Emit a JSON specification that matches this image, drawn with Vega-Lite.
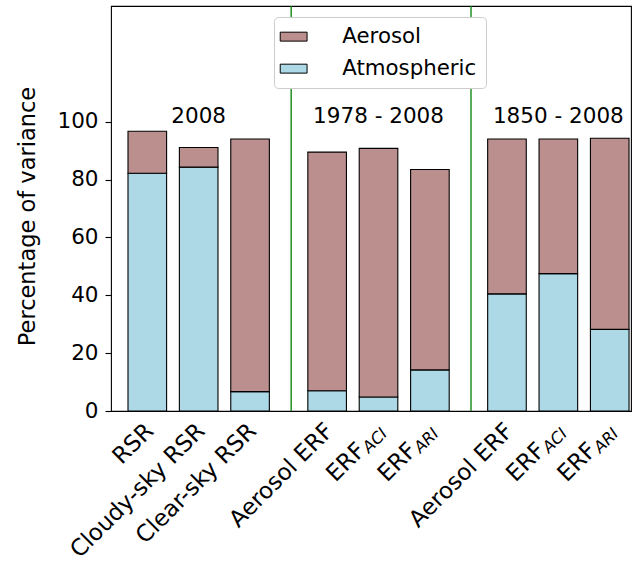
{
  "$schema": "https://vega.github.io/schema/vega-lite/v6.json",
  "autosize": {"type": "none"},
  "padding": {"left": 111, "top": 6, "right": 8, "bottom": 155},
  "width": 520,
  "height": 405,
  "config": {
    "font": "DejaVu Sans",
    "view": {"stroke": "black", "strokeWidth": 1.1},
    "legend": {
      "orient": "none",
      "legendX": 163,
      "legendY": 11,
      "fillColor": "white",
      "strokeColor": "#cccccc",
      "cornerRadius": 4,
      "padding": 9,
      "labelFontSize": 21.3,
      "labelColor": "black",
      "labelFont": "DejaVu Sans",
      "symbolType": "M-1.5,-0.5H1.5V0.5H-1.5Z",
      "symbolSize": 320,
      "symbolStrokeColor": "black",
      "symbolStrokeWidth": 1,
      "symbolOpacity": 1,
      "rowPadding": 10,
      "labelOffset": 38
    }
  },
  "datasets": {
    "bars": [
      {"label": "RSR", "pos": 0, "component": "Atmospheric", "value": 82.2},
      {"label": "RSR", "pos": 0, "component": "Aerosol", "value": 14.5},
      {"label": "Cloudy-sky RSR", "pos": 1, "component": "Atmospheric", "value": 84.3},
      {"label": "Cloudy-sky RSR", "pos": 1, "component": "Aerosol", "value": 6.8},
      {"label": "Clear-sky RSR", "pos": 2, "component": "Atmospheric", "value": 6.7},
      {"label": "Clear-sky RSR", "pos": 2, "component": "Aerosol", "value": 87.3},
      {"label": "Aerosol ERF (1978-2008)", "pos": 3.5, "component": "Atmospheric", "value": 7.0},
      {"label": "Aerosol ERF (1978-2008)", "pos": 3.5, "component": "Aerosol", "value": 82.5},
      {"label": "ERF ACI (1978-2008)", "pos": 4.5, "component": "Atmospheric", "value": 4.85},
      {"label": "ERF ACI (1978-2008)", "pos": 4.5, "component": "Aerosol", "value": 85.95},
      {"label": "ERF ARI (1978-2008)", "pos": 5.5, "component": "Atmospheric", "value": 14.2},
      {"label": "ERF ARI (1978-2008)", "pos": 5.5, "component": "Aerosol", "value": 69.3},
      {"label": "Aerosol ERF (1850-2008)", "pos": 7, "component": "Atmospheric", "value": 40.5},
      {"label": "Aerosol ERF (1850-2008)", "pos": 7, "component": "Aerosol", "value": 53.5},
      {"label": "ERF ACI (1850-2008)", "pos": 8, "component": "Atmospheric", "value": 47.5},
      {"label": "ERF ACI (1850-2008)", "pos": 8, "component": "Aerosol", "value": 46.5},
      {"label": "ERF ARI (1850-2008)", "pos": 9, "component": "Atmospheric", "value": 28.2},
      {"label": "ERF ARI (1850-2008)", "pos": 9, "component": "Aerosol", "value": 66.1}
    ],
    "labels": [
      {"pos": 0, "main": "RSR", "sub": ""},
      {"pos": 1, "main": "Cloudy-sky RSR", "sub": ""},
      {"pos": 2, "main": "Clear-sky RSR", "sub": ""},
      {"pos": 3.5, "main": "Aerosol ERF", "sub": ""},
      {"pos": 4.5, "main": "ERF", "sub": "ACI"},
      {"pos": 5.5, "main": "ERF", "sub": "ARI"},
      {"pos": 7, "main": "Aerosol ERF", "sub": ""},
      {"pos": 8, "main": "ERF", "sub": "ACI"},
      {"pos": 9, "main": "ERF", "sub": "ARI"}
    ],
    "groups": [
      {"pos": 1, "period": "2008"},
      {"pos": 4.5, "period": "1978 - 2008"},
      {"pos": 8, "period": "1850 - 2008"}
    ],
    "separators": [
      {"sep": 2.8},
      {"sep": 6.3}
    ]
  },
  "layer": [
    {
      "data": {"name": "separators"},
      "mark": {"type": "rule", "color": "green", "strokeWidth": 1.3},
      "encoding": {
        "x": {"field": "sep", "type": "quantitative", "scale": {"domain": [-0.7065, 9.414], "nice": false, "zero": false, "padding": 0}, "axis": null}
      }
    },
    {
      "data": {"name": "bars"},
      "mark": {"type": "bar", "width": 38.6, "stroke": "black", "strokeWidth": 1.1, "opacity": 1},
      "encoding": {
        "x": {"field": "pos", "type": "quantitative"},
        "y": {
          "field": "value", "type": "quantitative", "stack": "zero",
          "scale": {"domain": [0, 140], "nice": false, "padding": 0},
          "axis": {
            "title": "Percentage of variance",
            "titleFontSize": 22.5,
            "titleFontWeight": "normal",
            "titleColor": "black",
            "titlePadding": 17,
            "titleY": 210,
            "labelFontSize": 21.5,
            "labelColor": "black",
            "labelPadding": 7,
            "values": [0, 20, 40, 60, 80, 100],
            "tickSize": 6,
            "tickColor": "black",
            "tickWidth": 1.1,
            "domain": false,
            "grid": false
          }
        },
        "color": {
          "field": "component", "type": "nominal",
          "scale": {"domain": ["Aerosol", "Atmospheric"], "range": ["#BC8F8F", "#ADD8E6"]},
          "legend": {"title": null}
        },
        "order": {"field": "component", "sort": "descending"}
      }
    },
    {
      "data": {"name": "groups"},
      "mark": {"type": "text", "fontSize": 21.5, "color": "black", "align": "center", "baseline": "alphabetic"},
      "encoding": {
        "x": {"field": "pos", "type": "quantitative"},
        "y": {"datum": 99.5, "type": "quantitative"},
        "text": {"field": "period"}
      }
    },
    {
      "data": {"name": "labels"},
      "transform": [{"filter": "datum.sub === ''"}],
      "mark": {"type": "text", "fontSize": 23, "color": "black", "align": "right", "baseline": "alphabetic", "angle": -45, "dx": -9.9, "dy": 20.4},
      "encoding": {
        "x": {"field": "pos", "type": "quantitative"},
        "y": {"datum": 0, "type": "quantitative"},
        "text": {"field": "main"}
      }
    },
    {
      "data": {"name": "labels"},
      "transform": [{"filter": "datum.sub !== ''"}],
      "mark": {"type": "text", "fontSize": 23, "color": "black", "align": "right", "baseline": "alphabetic", "angle": -45, "dx": -37.4, "dy": 20.4},
      "encoding": {
        "x": {"field": "pos", "type": "quantitative"},
        "y": {"datum": 0, "type": "quantitative"},
        "text": {"field": "main"}
      }
    },
    {
      "data": {"name": "labels"},
      "transform": [{"filter": "datum.sub !== ''"}],
      "mark": {"type": "text", "fontSize": 16.1, "fontStyle": "italic", "color": "black", "align": "right", "baseline": "alphabetic", "angle": -45, "dx": -9.9, "dy": 23.6},
      "encoding": {
        "x": {"field": "pos", "type": "quantitative"},
        "y": {"datum": 0, "type": "quantitative"},
        "text": {"field": "sub"}
      }
    }
  ]
}
